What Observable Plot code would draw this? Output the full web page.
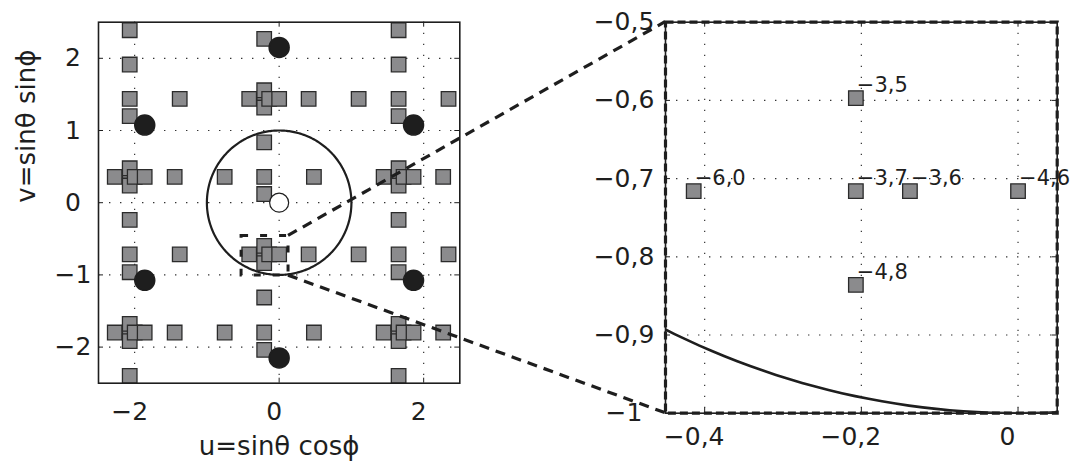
<!DOCTYPE html>
<html>
<head>
<meta charset="utf-8">
<script src="https://cdn.jsdelivr.net/npm/d3@7"></script>
<script src="https://cdn.jsdelivr.net/npm/@observablehq/plot@0.6"></script>
<style>
  html, body { margin: 0; padding: 0; background: #fff; }
  #wrap { position: relative; width: 1072px; height: 461px; overflow: hidden; background: #fff; }
  #wrap svg { position: absolute; top: 0; }
</style>
</head>
<body>
<div id="wrap"></div>
<script>
// ---------- data ----------
// squares (left panel), u and v coordinates
const squaresU = [
  // cluster around (-0.207, 1.438)
  -0.414, -0.207, -0.207, -0.207, -0.138, 0.0,
  // cluster around (-0.207, -0.716)
  -0.414, -0.207, -0.207, -0.207, -0.138, 0.0,
  // cluster around (-2.068, 0.358)
  -2.275, -2.068, -2.068, -2.068, -1.999, -1.861,
  // cluster around (1.653, 0.358)
  1.446, 1.653, 1.653, 1.653, 1.722, 1.860,
  // cluster around (-2.068, -1.798)
  -2.275, -2.068, -2.068, -2.068, -1.999, -1.861,
  // cluster around (1.653, -1.798)
  1.446, 1.653, 1.653, 1.653, 1.722, 1.860,
  // column u = -2.068
  -2.068, -2.068, -2.068, -2.068, -2.068, -2.068, -2.068, -2.068,
  // column u = 1.653
  1.653, 1.653, 1.653, 1.653, 1.653, 1.653, 1.653, 1.653,
  // column u = -0.207
  -0.207, -0.207, -0.207, -0.207, -0.207, -0.207, -0.207,
  // row v = 1.438
  -1.376, 0.408, 1.100, 2.344,
  // row v = -0.716
  -1.376, 0.408, 1.100, 2.344,
  // row v = 0.358
  -1.446, -0.754, 0.481, 2.270,
  // row v = -1.798
  -1.446, -0.754, 0.481, 2.270
];
const squaresV = [
  1.438, 1.438, 1.557, 1.318, 1.438, 1.438,
  -0.716, -0.716, -0.597, -0.836, -0.716, -0.716,
  0.358, 0.358, 0.477, 0.238, 0.358, 0.358,
  0.358, 0.358, 0.477, 0.238, 0.358, 0.358,
  -1.798, -1.798, -1.679, -1.918, -1.798, -1.798,
  -1.798, -1.798, -1.679, -1.918, -1.798, -1.798,
  2.389, 1.914, 1.438, 1.198, -0.238, -0.716, -0.963, -2.398,
  2.389, 1.914, 1.438, 1.198, -0.238, -0.716, -0.963, -2.398,
  2.269, 0.835, 0.358, 0.120, -1.313, -1.798, -2.039,
  1.438, 1.438, 1.438, 1.438,
  -0.716, -0.716, -0.716, -0.716,
  0.358, 0.358, 0.358, 0.358,
  -1.798, -1.798, -1.798, -1.798
];
// black circles (grating lobes) and white circle (main beam)
const lobesU = [0, -1.86, 1.86, -1.86, 1.86, 0];
const lobesV = [2.15, 1.075, 1.075, -1.075, -1.075, -2.15];
const mainU = [0];
const mainV = [0];
// zoom rectangle drawn in the left panel
const boxU = [-0.52, 0.13];
const boxV = [-1.01, -0.46];

// right (zoomed) panel
const zoomU = [-0.414, -0.207, -0.207, -0.138, 0.0, -0.207];
const zoomV = [-0.716, -0.597, -0.716, -0.716, -0.716, -0.836];
const zoomLabels = ["−6,0", "−3,5", "−3,7", "−3,6", "−4,6", "−4,8"];
const zoomDomainU = [-0.45, 0.05];
const zoomDomainV = [-1, -0.5];

// ticks and tick labels
const leftXTicks = [-2, 0, 2];
const leftXTickLabels = ["−2", "0", "2"];
const leftYTicks = [-2, -1, 0, 1, 2];
const leftYTickLabels = ["−2", "−1", "0", "1", "2"];
const rightXTicks = [-0.4, -0.2, 0];
const rightXTickLabels = ["−0,4", "−0,2", "0"];
const rightYTicks = [-1, -0.9, -0.8, -0.7, -0.6, -0.5];
const rightYTickLabels = ["−1", "−0,9", "−0,8", "−0,7", "−0,6", "−0,5"];
const rightYGrid = [-0.9, -0.8, -0.7, -0.6];

const xLabel = "u=sinθ cosϕ";
const yLabel = "v=sinθ sinϕ";

// ---------- derived tables ----------
const squares = squaresU.map((u, i) => ({u, v: squaresV[i]}));
const lobes = lobesU.map((u, i) => ({u, v: lobesV[i]}));
const main = mainU.map((u, i) => ({u, v: mainV[i]}));
const zoomPts = zoomU.map((u, i) => ({u, v: zoomV[i], label: zoomLabels[i]}));
// unit circle u^2 + v^2 = 1 (visible-region boundary)
const circle = d3.range(0, 361).map(a => ({u: Math.cos(a * Math.PI / 180), v: Math.sin(a * Math.PI / 180)}));

const fmt = (ticks, labels) => { const m = new Map(ticks.map((t, i) => [t, labels[i]])); return d => m.get(d); };

const FONT = "DejaVu Sans, sans-serif";
const INK = "#1e1e1e";
const gridStyle = {stroke: "#333", strokeOpacity: 1, strokeWidth: 1.2, strokeDasharray: "1.4,9.6"};
const sqStyle = {symbol: "square", r: 8.2, fill: "#8b8b8d", stroke: "#2b2b2b", strokeWidth: 1.3};

function inwardTicks(xt, yt, fw, fh) {
  const L = 5;
  return [
    Plot.tickX(xt, {x: d => d, insetTop: fh - L, stroke: INK}),
    Plot.tickX(xt, {x: d => d, insetBottom: fh - L, stroke: INK}),
    Plot.tickY(yt, {y: d => d, insetRight: fw - L, stroke: INK}),
    Plot.tickY(yt, {y: d => d, insetLeft: fw - L, stroke: INK})
  ];
}

// ---------- left panel ----------
const LW = 470, LH = 461, LML = 98, LMR = 10.7, LMT = 21.7, LMB = 78.3;
const leftPlot = Plot.plot({
  width: LW, height: LH,
  marginLeft: LML, marginRight: LMR, marginTop: LMT, marginBottom: LMB,
  x: {domain: [-2.5, 2.5]},
  y: {domain: [-2.5, 2.5]},
  style: {fontFamily: FONT, fontSize: "25px", color: INK, background: "transparent", overflow: "visible"},
  marks: [
    Plot.gridX(leftXTicks, gridStyle),
    Plot.gridY(leftYTicks, gridStyle),
    ...inwardTicks(leftXTicks, leftYTicks, LW - LML - LMR, LH - LMT - LMB),
    Plot.line(circle, {x: "u", y: "v", stroke: INK, strokeWidth: 2.2, clip: true}),
    Plot.dot(squares, {x: "u", y: "v", ...sqStyle}),
    Plot.dot(lobes, {x: "u", y: "v", r: 10, fill: INK, stroke: INK}),
    Plot.dot(main, {x: "u", y: "v", r: 9.5, fill: "#fff", stroke: INK, strokeWidth: 1.2}),
    Plot.rect([0], {x1: boxU[0], x2: boxU[1], y1: boxV[0], y2: boxV[1], fill: "none", stroke: INK, strokeWidth: 3, strokeDasharray: "7,12"}),
    Plot.frame({stroke: INK, strokeWidth: 1.6}),
    Plot.axisX({ticks: leftXTicks, tickFormat: fmt(leftXTicks, leftXTickLabels), tickSize: 0, tickPadding: 19, dx: -5, label: null, fontSize: 25}),
    Plot.axisY({ticks: leftYTicks, tickFormat: fmt(leftYTicks, leftYTickLabels), tickSize: 0, tickPadding: 25.5, textAnchor: "middle", label: null, fontSize: 25}),
    Plot.text([xLabel], {text: d => d, frameAnchor: "bottom", dy: 72, fontSize: 26, fill: INK}),
    Plot.text([yLabel], {text: d => d, frameAnchor: "left", dx: -72, rotate: -90, fontSize: 26, fill: INK})
  ]
});

// ---------- right panel ----------
const RX = 560;
const RW = 512, RH = 461, RML = 105, RMR = 15.3, RMT = 21.7, RMB = 48.3;
const rightPlot = Plot.plot({
  width: RW, height: RH,
  marginLeft: RML, marginRight: RMR, marginTop: RMT, marginBottom: RMB,
  x: {domain: zoomDomainU},
  y: {domain: zoomDomainV},
  style: {fontFamily: FONT, fontSize: "25px", color: INK, background: "transparent", overflow: "visible"},
  marks: [
    Plot.gridX(rightXTicks, gridStyle),
    Plot.gridY(rightYGrid, gridStyle),
    ...inwardTicks(rightXTicks, rightYTicks, RW - RML - RMR, RH - RMT - RMB),
    Plot.line(circle, {x: "u", y: "v", stroke: INK, strokeWidth: 2.6, clip: true}),
    Plot.dot(zoomPts, {x: "u", y: "v", ...sqStyle}),
    Plot.text(zoomPts, {x: "u", y: "v", text: "label", textAnchor: "start", dx: 1, dy: -13, fontSize: 21, fill: INK}),
    Plot.frame({stroke: INK, strokeWidth: 1.6}),
    Plot.frame({stroke: INK, strokeWidth: 3.2, strokeDasharray: "8,4"}),
    Plot.axisX({ticks: rightXTicks, tickFormat: fmt(rightXTicks, rightXTickLabels), tickSize: 0, tickPadding: 14, dx: -10.5, label: null, fontSize: 25}),
    Plot.axisY({ticks: rightYTicks, tickFormat: fmt(rightYTicks, rightYTickLabels), tickSize: 0, tickPadding: 41.5, textAnchor: "middle", label: null, fontSize: 25})
  ]
});

const wrap = document.getElementById("wrap");
leftPlot.style.left = "0px";
rightPlot.style.left = RX + "px";
wrap.appendChild(leftPlot);
wrap.appendChild(rightPlot);

// ---------- connector lines (through both plots' scales) ----------
const lx = leftPlot.scale("x"), ly = leftPlot.scale("y");
const rx = rightPlot.scale("x"), ry = rightPlot.scale("y");
const links = [
  {x1: lx.apply(boxU[1]), y1: ly.apply(boxV[1]), x2: RX + rx.apply(zoomDomainU[0]), y2: ry.apply(zoomDomainV[1])},
  {x1: lx.apply(boxU[1]), y1: ly.apply(boxV[0]), x2: RX + rx.apply(zoomDomainU[0]), y2: ry.apply(zoomDomainV[0])}
];
const overlay = d3.select(wrap).append("svg")
  .attr("width", 1072).attr("height", 461)
  .style("left", "0px").style("pointer-events", "none");
overlay.selectAll("line").data(links).join("line")
  .attr("x1", d => d.x1).attr("y1", d => d.y1)
  .attr("x2", d => d.x2).attr("y2", d => d.y2)
  .attr("stroke", INK).attr("stroke-width", 3.2).attr("stroke-dasharray", "10,7");
</script>
</body>
</html>
